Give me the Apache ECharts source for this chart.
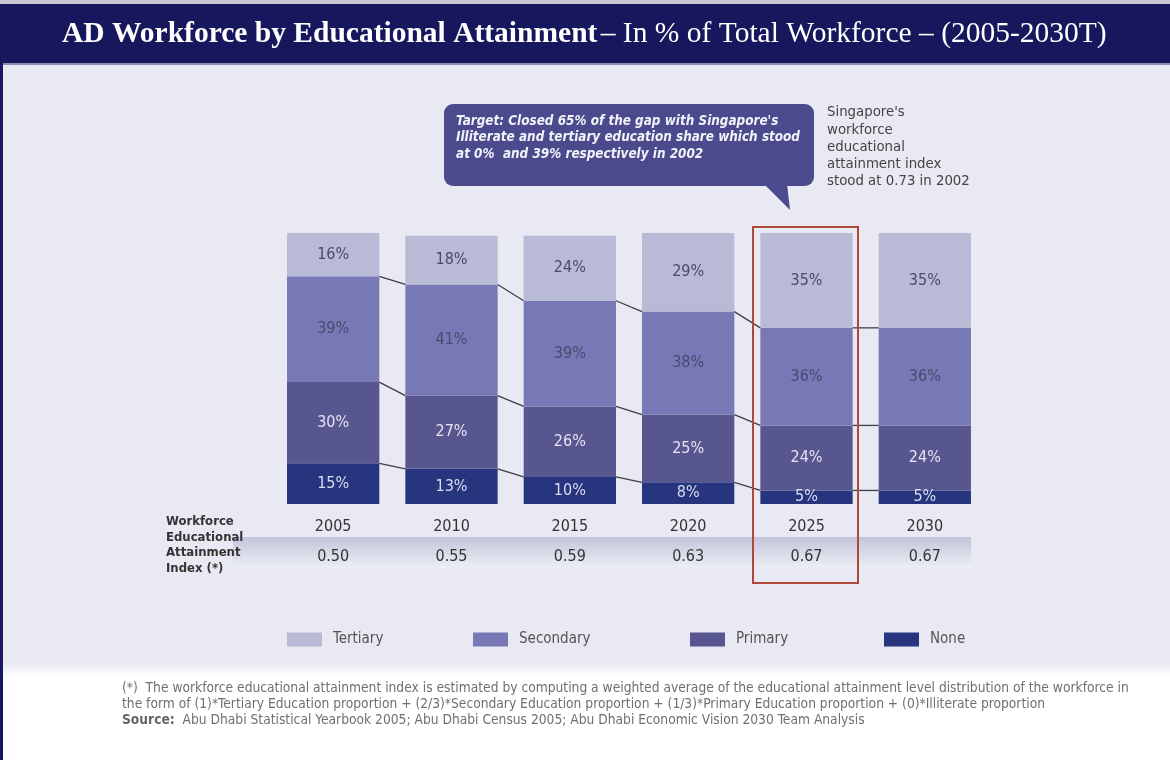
<!DOCTYPE html>
<html>
<head>
<meta charset="utf-8">
<script src="https://cdn.jsdelivr.net/npm/echarts@6/dist/echarts.min.js"></script>
<style>
html,body{margin:0;padding:0;background:#fff;}
#c{width:1170px;height:760px;}
</style>
</head>
<body>
<div id="c"></div>
<script>
// ---- data ----
const years = ['2005', '2010', '2015', '2020', '2025', '2030'];
const indexValues = ['0.50', '0.55', '0.59', '0.63', '0.67', '0.67'];
const tertiary = [16, 18, 24, 29, 35, 35];
const secondary = [39, 41, 39, 38, 36, 36];
const primary = [30, 27, 26, 25, 24, 24];
const none = [15, 13, 10, 8, 5, 5];
const seriesNames = ['Tertiary', 'Secondary', 'Primary', 'None'];

const NARROW = '"Liberation Sans Narrow","DejaVu Sans Condensed","Roboto Condensed",sans-serif';
const colors = { Tertiary: '#b9bad6', Secondary: '#7778b5', Primary: '#57568f', None: '#27357f' };

// connector lines between adjacent bars at each segment boundary
const levels = [
  none,
  none.map((v, i) => v + primary[i]),
  none.map((v, i) => v + primary[i] + secondary[i])
];
const connectors = [];
levels.forEach(lv => {
  for (let i = 0; i < years.length - 1; i++) connectors.push([i, lv[i], lv[i + 1]]);
});

const BAR_FRAC = 0.78;
const chart = echarts.init(document.getElementById('c'));

function barSeries(name, data, labelColor) {
  return {
    name: name, type: 'bar', stack: 'edu', data: data, barWidth: (BAR_FRAC * 100) + '%',
    itemStyle: { color: colors[name] },
    label: { show: true, position: 'inside', formatter: '{c}%', color: labelColor,
      fontFamily: NARROW, fontSize: 16 },
    z: 2
  };
}

const legendPos = [[287, 'Tertiary'], [473, 'Secondary'], [690, 'Primary'], [884, 'None']];

chart.setOption({
  backgroundColor: '#ffffff',
  animation: false,
  grid: { left: 274, top: 233, width: 710, height: 271 },
  xAxis: {
    type: 'category', data: years,
    axisLine: { show: false }, axisTick: { show: false },
    axisLabel: {
      margin: 9,
      formatter: (v, i) => '{y|' + v + '}\n{i|' + indexValues[i] + '}',
      rich: {
        y: { fontFamily: NARROW, fontSize: 16, color: '#333', height: 28, lineHeight: 28 },
        i: { fontFamily: NARROW, fontSize: 16, color: '#333', height: 32, lineHeight: 32 }
      }
    }
  },
  yAxis: { type: 'value', min: 0, max: 100, show: false },
  legend: legendPos.map(([x, n]) => ({
    data: [n], left: x, top: 632, padding: 0, itemWidth: 35, itemHeight: 14, itemGap: 0,
    icon: 'rect', selectedMode: false,
    textStyle: { fontFamily: NARROW, fontSize: 15, color: '#555', padding: [0, 0, 0, 6] }
  })),
  series: [
    barSeries('None', none, '#dcdcf0'),
    barSeries('Primary', primary, '#e4e4f4'),
    barSeries('Secondary', secondary, '#4a4a70'),
    barSeries('Tertiary', tertiary, '#4a4a6a'),
    {
      type: 'custom', data: connectors, encode: { x: 0, y: 1 }, z: 3, silent: true,
      renderItem: function (params, api) {
        const i = api.value(0);
        const p1 = api.coord([i, api.value(1)]);
        const p2 = api.coord([i + 1, api.value(2)]);
        const half = api.size([1, 0])[0] * BAR_FRAC / 2;
        return {
          type: 'line',
          shape: { x1: p1[0] + half, y1: p1[1], x2: p2[0] - half, y2: p2[1] },
          style: { stroke: '#3e3e48', lineWidth: 1.3 }
        };
      }
    }
  ],
  graphic: [
    // panel background
    { type: 'rect', z: -10, shape: { x: 0, y: 63, width: 1170, height: 600 }, style: { fill: '#e8e9f2' } },
    { type: 'rect', z: -10, shape: { x: 0, y: 663, width: 1170, height: 14 },
      style: { fill: { type: 'linear', x: 0, y: 0, x2: 0, y2: 1,
        colorStops: [{ offset: 0, color: '#e8e9f2' }, { offset: 1, color: '#ffffff' }] } } },
    // banner
    { type: 'rect', z: -5, shape: { x: 0, y: 0, width: 1170, height: 4 }, style: { fill: '#c9c9d4' } },
    { type: 'rect', z: -5, shape: { x: 0, y: 4, width: 1170, height: 59 }, style: { fill: '#17175d' } },
    { type: 'rect', z: -5, shape: { x: 0, y: 63, width: 1170, height: 2 }, style: { fill: '#8a8ab0' } },
    // left border
    { type: 'rect', z: -5, shape: { x: 0, y: 4, width: 3, height: 756 }, style: { fill: '#17175d' } },
    // title
    { type: 'text', left: 62, top: 19, z: 10, style: {
      text: '{b|AD Workforce by Educational Attainment} {r|– In % of Total Workforce – (2005-2030T)}',
      rich: {
        b: { fontFamily: '"Liberation Serif","DejaVu Serif",serif', fontSize: 29.5, fontWeight: 'bold', fill: '#ffffff' },
        r: { fontFamily: '"Liberation Serif","DejaVu Serif",serif', fontSize: 29.5, fill: '#ffffff' }
      } } },
    // index band
    { type: 'rect', z: -3, shape: { x: 233, y: 537, width: 738, height: 31 },
      style: { fill: { type: 'linear', x: 0, y: 0, x2: 0, y2: 1,
        colorStops: [{ offset: 0, color: '#c3c4da' }, { offset: 1, color: '#eceef5' }] } } },
    // left labels
    { type: 'text', left: 166, top: 514, z: 10, style: {
      text: 'Workforce\nEducational\nAttainment\nIndex (*)', lineHeight: 15.5,
      fontFamily: NARROW, fontSize: 13, fontWeight: 'bold', fill: '#333' } },
    // red highlight box
    { type: 'rect', z: 5, shape: { x: 753, y: 227, width: 105, height: 356 },
      style: { fill: 'none', stroke: '#b0483a', lineWidth: 2 } },
    // callout
    { type: 'polygon', z: 4, shape: { points: [[764, 184], [790, 210], [787, 184]] }, style: { fill: '#4b4a8c' } },
    { type: 'rect', z: 4, shape: { x: 444, y: 104, width: 370, height: 82, r: 9 }, style: { fill: '#4b4a8c' } },
    { type: 'text', left: 456, top: 113, z: 6, style: {
      text: "Target: Closed 65% of the gap with Singapore's\nIlliterate and tertiary education share which stood\nat 0%  and 39% respectively in 2002",
      lineHeight: 16.5, fontFamily: NARROW, fontSize: 13.4, fontWeight: 'bold', fontStyle: 'italic', fill: '#f2f2fa' } },
    { type: 'text', left: 827, top: 104, z: 6, style: {
      text: "Singapore's\nworkforce\neducational\nattainment index\nstood at 0.73 in 2002",
      lineHeight: 17.2, fontFamily: NARROW, fontSize: 14.8, fill: '#444' } },
    // footnote
    { type: 'text', left: 122, top: 680, z: 6, style: {
      text: '(*)  The workforce educational attainment index is estimated by computing a weighted average of the educational attainment level distribution of the workforce in\nthe form of (1)*Tertiary Education proportion + (2/3)*Secondary Education proportion + (1/3)*Primary Education proportion + (0)*Illiterate proportion',
      lineHeight: 16, fontFamily: NARROW, fontSize: 13.7, fill: '#707070' } },
    { type: 'text', left: 122, top: 712, z: 6, style: {
      text: '{s|Source:}  Abu Dhabi Statistical Yearbook 2005; Abu Dhabi Census 2005; Abu Dhabi Economic Vision 2030 Team Analysis',
      lineHeight: 16, fontFamily: NARROW, fontSize: 13.7, fill: '#707070',
      rich: { s: { fontFamily: NARROW, fontSize: 13.7, fontWeight: 'bold', fill: '#666' } } } }
  ]
});
</script>
</body>
</html>
